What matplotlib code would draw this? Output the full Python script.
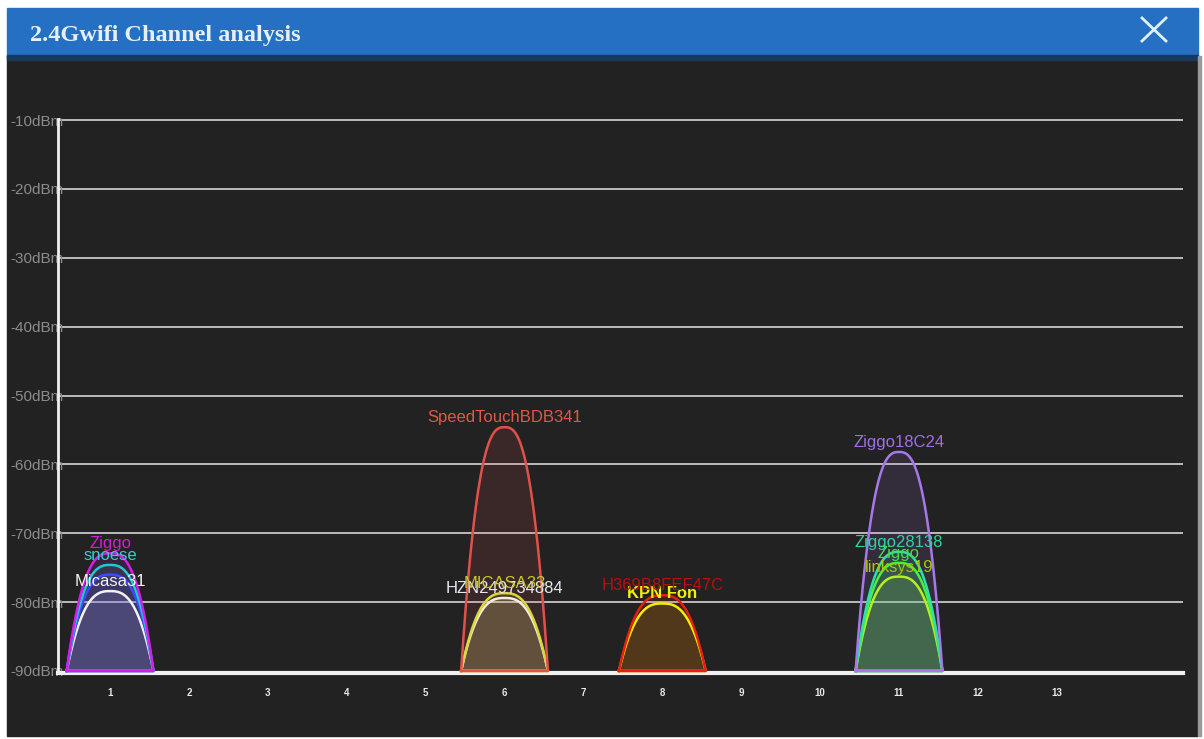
import numpy as np
import matplotlib.pyplot as plt
from matplotlib.patches import Rectangle

W, H = 1204, 739

channels = list(range(1, 14))
dbm_ticks = [-10, -20, -30, -40, -50, -60, -70, -80, -90]
floor_dbm = -90

# one entry per access point
ap_names = ['Ziggo', 'snoese', '', 'Micasa31',
            'SpeedTouchBDB341', 'MICASA33', 'HZN249734884',
            'H369B8FEF47C', 'KPN Fon',
            'Ziggo18C24', 'Ziggo28138', 'Ziggo', 'linksys19']
ap_channels = [1, 1, 1, 1, 6, 6, 6, 8, 8, 11, 11, 11, 11]
ap_dbm = [-72.9, -74.6, -76.0, -78.4,
          -54.6, -78.7, -79.4,
          -79.0, -80.2,
          -58.2, -72.7, -74.3, -76.3]
line_colors = ['#d21ee6', '#22c8d2', '#3a4cff', '#f4f0f4',
               '#e2504a', '#d8d83a', '#f4ece0',
               '#e81e10', '#f2f000',
               '#a678e8', '#30e0a8', '#48f040', '#b4f020']
label_colors = ['#d020d0', '#30d2d2', '#3a4cff', '#f4f4f4',
                '#e05848', '#c8c830', '#e8e8f0',
                '#b81010', '#f0f000',
                '#a070e0', '#30d0a0', '#40e040', '#a8c800']

half_width = 0.55

fig = plt.figure(figsize=(W / 100, H / 100), dpi=100, facecolor='white')

# window chrome
bg = fig.add_axes([0, 0, 1, 1])
bg.set_xlim(0, W)
bg.set_ylim(H, 0)
bg.axis('off')
bg.add_patch(Rectangle((7, 56), 1191, 680, color='#222222'))
bg.add_patch(Rectangle((7, 8), 1191, 50, color='#2570c2'))
bg.add_patch(Rectangle((7, 55), 1191, 5, color='#173a5c'))
bg.add_patch(Rectangle((1198, 56), 3, 680, color='#9a9a9a'))
bg.text(30, 35, '2.4Gwifi Channel analysis', color='#e4f0ff', fontsize=17.5,
        fontweight='bold', family='Liberation Serif', va='center', ha='left')
bg.plot([1142, 1166], [18, 41], color='#e0f0ff', lw=2)
bg.plot([1142, 1166], [41, 18], color='#e0f0ff', lw=2)

# chart area
px_per_db = (671 - 120) / 80
top_px = 120 - 0.5 * px_per_db
bot_px = 671 + 0.3 * px_per_db
ax = fig.add_axes([58 / W, (H - bot_px) / H, (1183 - 58) / W, (bot_px - top_px) / H])
ax.set_facecolor('none')
ax.set_xlim(0.34, 14.6)
ax.set_ylim(floor_dbm - 0.3, -9.5)

for v in dbm_ticks[:-1]:
    ax.axhline(v, color='#c8c8c8', lw=1.3, zorder=1)

for s in ['top', 'right']:
    ax.spines[s].set_visible(False)
ax.spines['left'].set_color('#f0f0f0')
ax.spines['left'].set_linewidth(2)
ax.spines['left'].set_bounds(floor_dbm, -9.8)
ax.spines['bottom'].set_color('#f0f0f0')
ax.spines['bottom'].set_linewidth(3)
ax.spines['bottom'].set_zorder(2)

ax.set_yticks(dbm_ticks)
ax.set_yticklabels([f'{v}dBm' for v in dbm_ticks], color='#8c8c8c',
                   fontsize=11, family='Liberation Sans')
ax.tick_params(axis='y', length=0, pad=-4)
ax.set_xticks(channels)
ax.set_xticklabels([str(c) for c in channels], color='#e8e8e8', fontsize=7,
                   fontweight='bold', family='Liberation Sans')
ax.tick_params(axis='x', length=0, pad=11)

t = np.linspace(-1, 1, 241)
order = np.argsort(ap_dbm)
for i in order:
    c = ap_channels[i]
    xs = c + half_width * t
    ys = floor_dbm + (ap_dbm[i] - floor_dbm) * (1 - np.abs(t) ** 2.7)
    ax.fill(xs, ys, color=line_colors[i], alpha=0.13, lw=0, zorder=3)
    ax.plot(np.append(xs, xs[0]), np.append(ys, ys[0]), color=line_colors[i],
            lw=1.8, zorder=4, clip_on=False)

for i in order:
    if ap_names[i]:
        bold = 'bold' if ap_names[i] == 'KPN Fon' else 'normal'
        ax.annotate(ap_names[i], (ap_channels[i], ap_dbm[i]), xytext=(0, 1.5),
                    textcoords='offset points', ha='center', va='bottom',
                    color=label_colors[i], fontsize=12, fontweight=bold,
                    family='Liberation Sans', zorder=6)

fig.savefig('out.png', dpi=100, facecolor='white')
